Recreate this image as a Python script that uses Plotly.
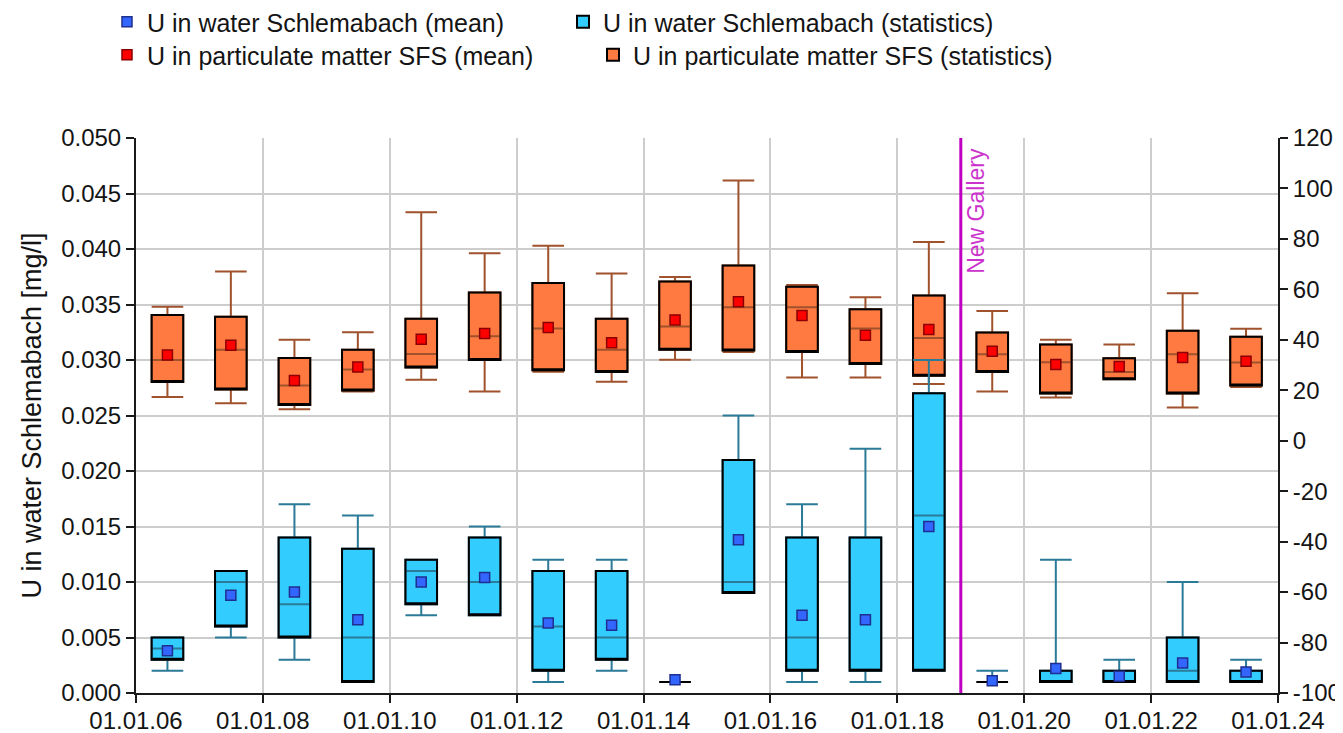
import plotly.graph_objects as go

# ---------------- data ----------------
years = list(range(2006, 2024))
box_dates = [f"{y}-07-01" for y in years]

# U in water Schlemabach [mg/l] (left axis)
water_min = [0.002, 0.005, 0.003, 0.001, 0.007, 0.007, 0.001, 0.002, 0.001, 0.009, 0.001, 0.001, 0.002, 0.001, 0.001, 0.001, 0.001, 0.001]
water_q1 = [0.003, 0.006, 0.005, 0.001, 0.008, 0.007, 0.002, 0.003, 0.001, 0.009, 0.002, 0.002, 0.002, 0.001, 0.001, 0.001, 0.001, 0.001]
water_med = [0.004, 0.010, 0.008, 0.005, 0.011, 0.010, 0.006, 0.005, 0.001, 0.010, 0.005, 0.002, 0.016, 0.001, 0.001, 0.001, 0.002, 0.001]
water_q3 = [0.005, 0.011, 0.014, 0.013, 0.012, 0.014, 0.011, 0.011, 0.001, 0.021, 0.014, 0.014, 0.027, 0.001, 0.002, 0.002, 0.005, 0.002]
water_max = [0.005, 0.011, 0.017, 0.016, 0.012, 0.015, 0.012, 0.012, 0.001, 0.025, 0.017, 0.022, 0.030, 0.002, 0.012, 0.003, 0.010, 0.003]
water_mean = [0.0038, 0.0088, 0.0091, 0.0066, 0.0100, 0.0104, 0.0063, 0.0061, 0.0012, 0.0138, 0.0070, 0.0066, 0.0150, 0.0011, 0.0022, 0.0015, 0.0027, 0.0019]

# U in particulate matter SFS (right axis)
part_min = [17.3, 14.9, 12.5, 19.5, 24.2, 19.5, 27.3, 23.4, 32.1, 35.2, 25.1, 25.1, 22.5, 19.5, 17.1, 24.4, 13.2, 21.3]
part_q1 = [23.3, 20.3, 14.2, 19.9, 29.0, 32.0, 27.9, 27.2, 36.1, 35.8, 35.2, 30.4, 25.8, 27.2, 18.7, 24.4, 18.7, 21.9]
part_med = [32.0, 36.1, 21.9, 28.2, 34.4, 41.4, 44.5, 36.1, 45.3, 52.9, 52.9, 44.5, 40.7, 34.3, 31.1, 27.2, 34.3, 31.0]
part_q3 = [49.8, 49.1, 32.8, 36.1, 48.4, 58.8, 62.5, 48.4, 63.1, 69.5, 61.0, 52.1, 57.6, 42.9, 38.1, 32.7, 43.6, 41.2]
part_max = [53.1, 67.1, 40.0, 43.0, 90.6, 74.3, 77.3, 66.3, 64.9, 103.2, 61.7, 56.9, 78.8, 51.4, 40.0, 38.1, 58.5, 44.4]
part_mean = [34.0, 37.8, 23.9, 29.2, 40.2, 42.5, 44.9, 38.8, 47.9, 55.1, 49.6, 41.8, 44.1, 35.5, 30.2, 29.4, 33.0, 31.5]

# right axis tick labels (plain hyphen minus, as in the reference)
right_tickvals = [-100, -80, -60, -40, -20, 0, 20, 40, 60, 80, 100, 120]
right_ticktext = ["-100", "-80", "-60", "-40", "-20", "0", "20", "40", "60", "80", "100", "120"]

new_gallery_date = "2019-01-01"

# ---------------- style ----------------
FONT = "Liberation Sans, Arial, sans-serif"
TXT = "#141414"
ORANGE = "#ff7a40"
ORANGE_W = "#a0522d"
BLUE = "#33ccff"
BLUE_W = "#2b7a98"
BOXW = 182 * 24 * 3600 * 1000  # half a year in ms

fig = go.Figure()

# particulate matter boxes (right axis 'y')
fig.add_trace(go.Box(
    x=box_dates, q1=part_q1, median=part_med, q3=part_q3,
    lowerfence=part_min, upperfence=part_max,
    width=BOXW, whiskerwidth=1, boxpoints=False,
    fillcolor=ORANGE, line=dict(color=ORANGE_W, width=2),
    yaxis="y", showlegend=False, hoverinfo="skip"))
fig.add_trace(go.Box(
    x=box_dates, q1=part_q1, median=part_q1, q3=part_q3,
    lowerfence=part_q1, upperfence=part_q3,
    width=BOXW, whiskerwidth=0, boxpoints=False,
    fillcolor="rgba(0,0,0,0)", line=dict(color="black", width=2),
    yaxis="y", showlegend=False, hoverinfo="skip"))
fig.add_trace(go.Scatter(
    x=box_dates, y=part_mean, mode="markers",
    marker=dict(symbol="square", size=10, color="#ff0000",
                line=dict(color="#8b0000", width=1.5)),
    name="U in particulate matter SFS (mean)", yaxis="y", legend="legend3"))

# water boxes (left axis 'y2', drawn on top)
fig.add_trace(go.Box(
    x=box_dates, q1=water_q1, median=water_med, q3=water_q3,
    lowerfence=water_min, upperfence=water_max,
    width=BOXW, whiskerwidth=1, boxpoints=False,
    fillcolor=BLUE, line=dict(color=BLUE_W, width=2),
    yaxis="y2", showlegend=False, hoverinfo="skip"))
fig.add_trace(go.Box(
    x=box_dates, q1=water_q1, median=water_q1, q3=water_q3,
    lowerfence=water_q1, upperfence=water_q3,
    width=BOXW, whiskerwidth=0, boxpoints=False,
    fillcolor="rgba(0,0,0,0)", line=dict(color="black", width=2),
    yaxis="y2", showlegend=False, hoverinfo="skip"))
fig.add_trace(go.Scatter(
    x=box_dates, y=water_mean, mode="markers",
    marker=dict(symbol="square", size=10, color="#3366ff",
                line=dict(color="#1f2f8f", width=1.5)),
    name="U in water Schlemabach (mean)", yaxis="y2", legend="legend"))

# legend-only entries for the statistics (outside the visible x range)
fig.add_trace(go.Box(
    x=["1990-07-01"], q1=[0.01], median=[0.01], q3=[0.02],
    lowerfence=[0.01], upperfence=[0.02], boxpoints=False,
    fillcolor=BLUE, line=dict(color="black", width=2),
    yaxis="y2", name="U in water Schlemabach (statistics)", legend="legend2"))
fig.add_trace(go.Box(
    x=["1990-07-01"], q1=[10], median=[10], q3=[20],
    lowerfence=[10], upperfence=[20], boxpoints=False,
    fillcolor=ORANGE, line=dict(color="black", width=2),
    yaxis="y", name="U in particulate matter SFS (statistics)", legend="legend4"))

# New Gallery marker
fig.add_shape(type="line", xref="x", yref="paper",
              x0=new_gallery_date, x1=new_gallery_date, y0=0, y1=1,
              line=dict(color="#c000c0", width=3))
fig.add_annotation(x=new_gallery_date, xref="x", y=1, yref="paper",
                   text="New Gallery", textangle=-90, showarrow=False,
                   xanchor="center", yanchor="top", xshift=15, yshift=-8,
                   font=dict(family=FONT, size=23, color="#cc33cc"))

# the page puts the figure 8 px in from the window's top-left corner
OFF = 8
PLOT_L, PLOT_T, PLOT_R, PLOT_B = 136, 138, 1278, 693  # window pixels
PW = PLOT_R - PLOT_L
PH = PLOT_B - PLOT_T


def lx(px):
    return (px - PLOT_L) / PW


def ly(py):
    return 1 + (PLOT_T - py) / PH


leg_common = dict(orientation="h", xanchor="left", yanchor="middle",
                  bgcolor="rgba(0,0,0,0)", borderwidth=0,
                  font=dict(family=FONT, size=25, color=TXT))

fig.update_layout(
    width=1343, height=733,
    margin=dict(l=PLOT_L - OFF, r=1343 + OFF - PLOT_R,
                t=PLOT_T - OFF, b=733 + OFF - PLOT_B, autoexpand=False),
    paper_bgcolor="white", plot_bgcolor="white",
    font=dict(family=FONT, size=24, color=TXT),
    boxmode="overlay",
    legend=dict(x=lx(107), y=ly(22), **leg_common),
    legend2=dict(x=lx(563), y=ly(22), **leg_common),
    legend3=dict(x=lx(107), y=ly(55), **leg_common),
    legend4=dict(x=lx(593), y=ly(55), **leg_common),
    xaxis=dict(type="date", range=["2006-01-01", "2024-01-01"],
               tick0="2006-01-01", dtick="M24", tickformat="%d.%m.%y",
               showgrid=True, gridcolor="#cdcdcd", gridwidth=2,
               showline=True, linecolor="#1a1a1a", linewidth=2,
               ticks="outside", ticklen=8, tickwidth=2, tickcolor="#1a1a1a",
               ticklabelstandoff=-3,
               tickfont=dict(family=FONT, size=24, color=TXT),
               zeroline=False),
    yaxis=dict(range=[-100, 120], tickmode="array",
               tickvals=right_tickvals, ticktext=right_ticktext,
               side="right", showgrid=False, zeroline=False,
               showline=True, linecolor="#1a1a1a", linewidth=2,
               ticks="outside", ticklen=8, tickwidth=2, tickcolor="#1a1a1a",
               tickfont=dict(family=FONT, size=24, color=TXT)),
    yaxis2=dict(range=[0, 0.05], dtick=0.005, tickformat=".3f",
                overlaying="y", side="left",
                showgrid=True, gridcolor="#cdcdcd", gridwidth=2,
                zeroline=False,
                showline=True, linecolor="#1a1a1a", linewidth=2,
                ticks="outside", ticklen=8, tickwidth=2, tickcolor="#1a1a1a",
                tickfont=dict(family=FONT, size=24, color=TXT),
                title=dict(text="U in water Schlemabach [mg/l]",
                           font=dict(family=FONT, size=27, color=TXT),
                           standoff=12)),
)

fig.write_html("out.html")
